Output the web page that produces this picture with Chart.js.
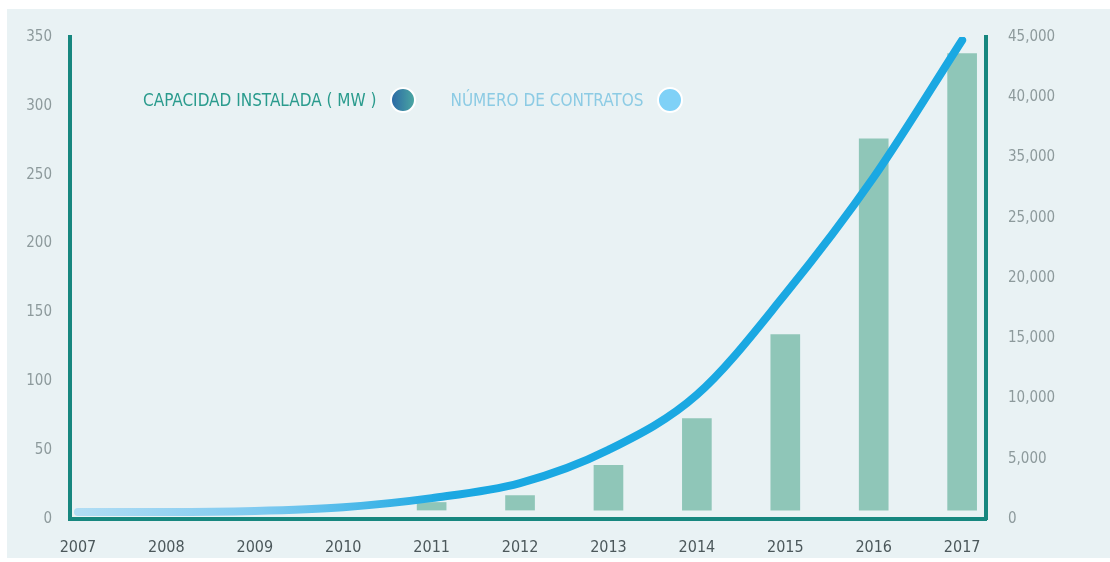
<!DOCTYPE html>
<html>
<head>
<meta charset="utf-8">
<script src="https://cdn.jsdelivr.net/npm/chart.js@4.4.1/dist/chart.umd.min.js"></script>
<style>
  html, body { margin: 0; padding: 0; background: #ffffff; }
  #wrap { position: relative; width: 1110px; height: 562px; }
  #legend {
    position: absolute; left: 143px; top: 87px;
    display: flex; align-items: center;
    font-family: "DejaVu Sans Condensed", "Liberation Sans Narrow", sans-serif;
    font-size: 17px;
  }
  .item { display: flex; align-items: center; margin-right: 34px; }
  .dot {
    width: 22px; height: 22px; border-radius: 50%;
    border: 2px solid #ffffff; margin-left: 14px; box-sizing: content-box;
  }
</style>
</head>
<body>
<div id="wrap">
  <canvas id="chart" width="1110" height="562"></canvas>
  <div id="legend"></div>
</div>
<script>
// years on the x axis
const years = [2007, 2008, 2009, 2010, 2011, 2012, 2013, 2014, 2015, 2016, 2017]

// installed capacity (MW), left axis - bars
const capacity = [null, null, null, null, 12, 17, 39, 73, 134, 276, 338]

// number of contracts, right axis - line
const contracts = [650, 650, 750, 1100, 1950, 3350, 6450, 11600, 21000, 31900, 44700]

const leftTicks = [0, 50, 100, 150, 200, 250, 300, 350]
const rightTickLabels = ['0', '5,000', '10,000', '15,000', '20,000', '25,000', '35,000', '40,000', '45,000']

const seriesNames = ['CAPACIDAD INSTALADA ( MW )', 'NÚMERO DE CONTRATOS']

const FONT = '"DejaVu Sans Condensed", "Liberation Sans Narrow", sans-serif'

// background panel (white margin on top/left)
const panelBg = {
  id: 'panelBg',
  beforeDraw(chart) {
    const c = chart.ctx
    c.save()
    c.fillStyle = '#e9f2f4'
    c.fillRect(7, 9, chart.width - 7, chart.height - 13)
    c.restore()
  }
}

function lineGradient(ctx) {
  const chart = ctx.chart
  const area = chart.chartArea
  if (!area) return '#1ba9e2'
  const g = chart.ctx.createLinearGradient(area.left, 0, area.left + 380, 0)
  g.addColorStop(0, '#b3def4')
  g.addColorStop(0.5, '#7fcaf0')
  g.addColorStop(1, '#1aa8e2')
  return g
}

const ctx = document.getElementById('chart').getContext('2d')

new Chart(ctx, {
  data: {
    datasets: [
      {
        type: 'bar',
        label: seriesNames[0],
        data: years.map((y, i) => ({ x: y, y: capacity[i] })),
        backgroundColor: '#8fc6b8',
        barThickness: 29,
        base: 6.5,
        yAxisID: 'y',
        order: 1
      },
      {
        type: 'line',
        label: seriesNames[1],
        data: years.map((y, i) => ({ x: y, y: contracts[i] })),
        borderColor: lineGradient,
        borderWidth: 8,
        borderCapStyle: 'round',
        borderJoinStyle: 'round',
        cubicInterpolationMode: 'monotone',
        pointRadius: 0,
        yAxisID: 'y1',
        order: 0
      }
    ]
  },
  options: {
    responsive: false,
    animation: false,
    layout: { padding: { top: 37, left: 0, right: 0, bottom: 0 } },
    plugins: {
      legend: { display: false },
      tooltip: { enabled: false }
    },
    scales: {
      x: {
        type: 'linear',
        offset: false,
        min: 2006.91,
        max: 2017.27,
        grid: { display: false },
        border: { display: true, color: '#17877f', width: 4 },
        afterBuildTicks: (scale) => { scale.ticks = years.map(v => ({ value: v })) },
        afterFit: (scale) => { scale.height = 43 },
        ticks: {
          padding: 11,
          color: '#4c585b',
          font: { family: FONT, size: 16 },
          callback: (v) => String(v)
        }
      },
      y: {
        position: 'left',
        min: 0,
        max: 350,
        grid: { display: false },
        border: { display: true, color: '#17877f', width: 4 },
        afterBuildTicks: (scale) => { scale.ticks = leftTicks.map(v => ({ value: v })) },
        afterFit: (scale) => { scale.width = 70 },
        ticks: {
          padding: 10,
          color: '#8d9a9c',
          font: { family: FONT, size: 15 }
        }
      },
      y1: {
        position: 'right',
        min: 0,
        max: 45000,
        grid: { display: false },
        border: { display: true, color: '#17877f', width: 4 },
        afterFit: (scale) => { scale.width = 124 },
        ticks: {
          stepSize: 5625,
          padding: 14,
          color: '#8d9a9c',
          font: { family: FONT, size: 15 },
          callback: (v, i) => rightTickLabels[i]
        }
      }
    }
  },
  plugins: [panelBg]
})

// legend: text followed by a dot
const legendColors = ['#2a9b8d', '#8ccbe4']
const dotFills = ['linear-gradient(90deg, #2c6aa5, #4aa6a2)', '#7fd1f7']
const legend = document.getElementById('legend')
seriesNames.forEach((name, i) => {
  const item = document.createElement('div')
  item.className = 'item'
  const txt = document.createElement('span')
  txt.textContent = name
  txt.style.color = legendColors[i]
  const dot = document.createElement('span')
  dot.className = 'dot'
  dot.style.background = dotFills[i]
  item.appendChild(txt)
  item.appendChild(dot)
  legend.appendChild(item)
})
</script>
</body>
</html>
